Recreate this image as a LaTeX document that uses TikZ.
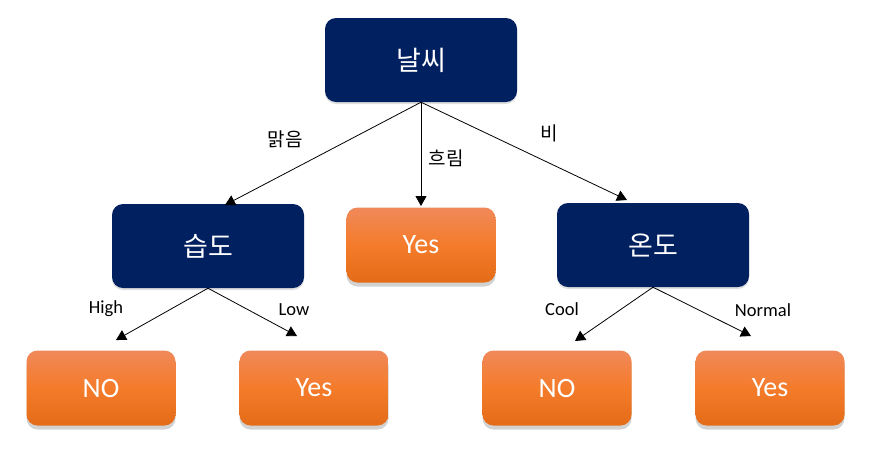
\documentclass[tikz,border=0pt]{standalone}
\usepackage{fontspec}
\setmainfont{Carlito}
\newfontfamily\kr{Noto Sans CJK KR}
\usetikzlibrary{shadows,arrows.meta}
\definecolor{navy}{HTML}{002060}
\definecolor{orTop}{HTML}{F0895A}
\definecolor{orMid}{HTML}{F47B2A}
\definecolor{orBot}{HTML}{E46C18}
\tikzset{
  navybox/.style={draw=none, fill=navy, rounded corners=11pt, minimum width=192pt, minimum height=84pt,
    text=white, font=\kr\fontsize{27}{30}\selectfont, inner sep=0pt,
    drop shadow={shadow xshift=0pt, shadow yshift=-2pt, opacity=0.25}},
  orbox/.style={draw=none, rounded corners=11pt, minimum width=149pt, minimum height=75pt,
    top color=orTop, bottom color=orBot, middle color=orMid,
    text=white, font=\fontsize{28}{32}\selectfont, inner sep=0pt,
    drop shadow={shadow xshift=0pt, shadow yshift=-4pt, opacity=0.35}},
  conn/.style={draw=black, line width=0.8pt, -{Triangle[length=10pt,width=11pt]}},
  lbl/.style={font=\fontsize{18.5}{22}\selectfont, text=black, inner sep=0pt},
  klbl/.style={font=\kr\fontsize{19}{22}\selectfont, text=black, inner sep=0pt}
}
\begin{document}
\begin{tikzpicture}[x=1pt,y=-1pt]
\useasboundingbox[fill=white] (0,0) rectangle (874,451);
\node[navybox] (weather) at (421,60) {날씨};
\node[navybox] (humid) at (208,246) {습도};
\node[orbox] (yesmid) at (421,245) {Yes};
\node[navybox] (temp) at (653,245) {온도};
\node[orbox] (no1) at (101,388) {NO};
\node[orbox] (yes2) at (314,388) {Yes};
\node[orbox] (no2) at (557,388) {NO};
\node[orbox] (yes3) at (770,388) {Yes};

\coordinate (t1) at (225,205);
\coordinate (t2) at (421,206);
\coordinate (t3) at (627,200);
\coordinate (t4) at (116,340);
\coordinate (t5) at (297,336);
\coordinate (t6) at (575,341);
\coordinate (t7) at (751,336);

\draw[conn] (weather.south) -- (t1);
\draw[conn] (weather.south) -- (t2);
\draw[conn] (weather.south) -- (t3);
\draw[conn] (humid.south) -- (t4);
\draw[conn] (humid.south) -- (t5);
\draw[conn] (temp.south) -- (t6);
\draw[conn] (temp.south) -- (t7);

\node[klbl] (l1) at (285,139) {맑음};
\node[klbl] (l2) at (446,158) {흐림};
\node[klbl] (l3) at (549,133) {비};
\node[lbl] (l4) at (106,309) {High};
\node[lbl] (l5) at (294,310) {Low};
\node[lbl] (l6) at (562,309) {Cool};
\node[lbl] (l7) at (763,310) {Normal};
\end{tikzpicture}
\end{document}
